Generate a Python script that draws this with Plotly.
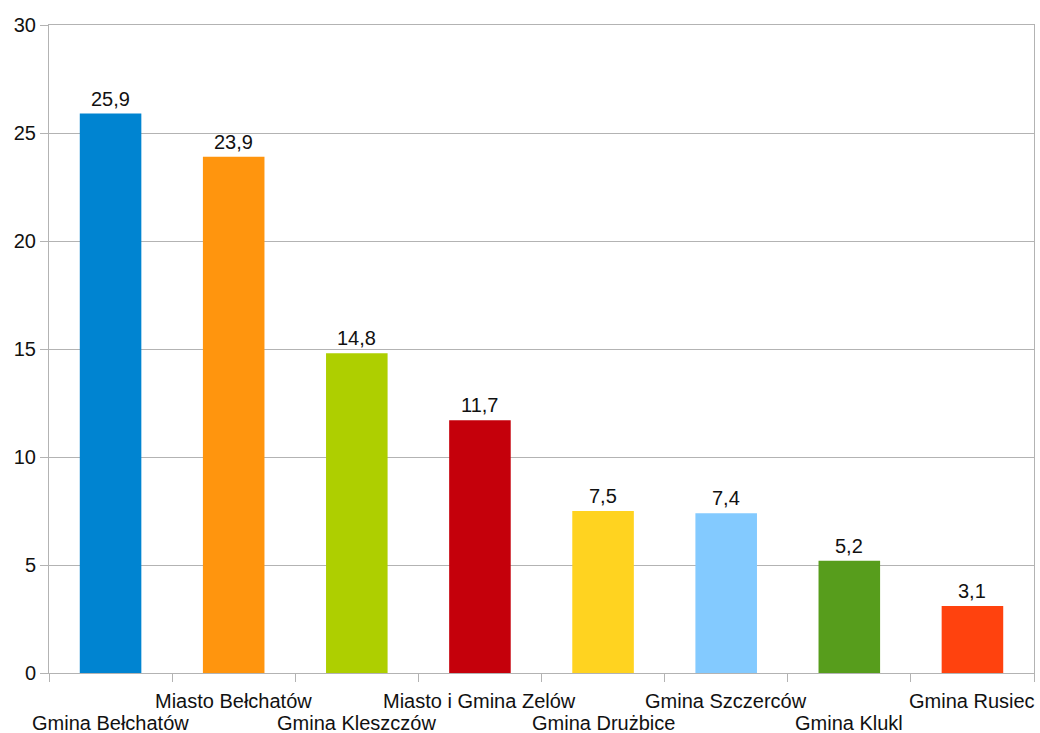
import plotly.graph_objects as go

categories = ["Gmina Bełchatów", "Miasto Bełchatów", "Gmina Kleszczów", "Miasto i Gmina Zelów",
              "Gmina Drużbice", "Gmina Szczerców", "Gmina Klukl", "Gmina Rusiec"]
values = [25.9, 23.9, 14.8, 11.7, 7.5, 7.4, 5.2, 3.1]
colors = ["#0084d1", "#ff950e", "#aecf00", "#c5000b", "#ffd320", "#83caff", "#579d1c", "#ff420e"]
y_ticks = [0, 5, 10, 15, 20, 25, 30]

labels = [f"{v:.1f}".replace(".", ",") for v in values]

FONT = "Liberation Sans, Arial, sans-serif"
FS = 20
TXT = "#111111"
GRID = "#b3b3b3"

xs = list(range(len(categories)))

fig = go.Figure(go.Bar(
    x=xs, y=values,
    marker=dict(color=colors, line=dict(width=0)),
    width=0.5, hoverinfo="skip",
))

# data labels above bars
for i, (v, t) in enumerate(zip(values, labels)):
    fig.add_annotation(x=i, y=v, xref="x", yref="y", text=t, showarrow=False,
                       yanchor="bottom", yshift=2,
                       font=dict(family=FONT, size=FS, color=TXT))

# staggered category labels: even index lower row, odd index upper row
for i, c in enumerate(categories):
    fig.add_annotation(x=i, y=0, xref="x", yref="paper", text=c, showarrow=False,
                       yanchor="top", yshift=(-37 if i % 2 == 0 else -15),
                       font=dict(family=FONT, size=FS, color=TXT))

fig.update_layout(
    width=1040, height=733,
    margin=dict(l=49, r=6, t=25, b=60, autoexpand=False),
    paper_bgcolor="white", plot_bgcolor="white",
    font=dict(family=FONT, size=FS, color=TXT),
    showlegend=False,
)
fig.update_xaxes(
    range=[-0.5, len(categories) - 0.5],
    tickvals=[i - 0.5 for i in range(len(categories) + 1)], showticklabels=False,
    ticks="outside", ticklen=8, tickcolor=GRID, tickwidth=1,
    showgrid=False, showline=True, linecolor=GRID, linewidth=1, mirror=True,
    zeroline=False, automargin=False,
)
fig.update_yaxes(
    range=[0, 30], tickvals=y_ticks,
    ticks="outside", ticklen=8, tickcolor=GRID,
    showgrid=True, gridcolor=GRID, gridwidth=1,
    showline=True, linecolor=GRID, linewidth=1, mirror=True,
    zeroline=False, automargin=False,
    tickfont=dict(family=FONT, size=FS, color=TXT),
)

# remove the default 8px page margin so the figure fills the window exactly
fig.write_html("out.html", config={"displayModeBar": False},
               post_script="document.body.style.margin='0';document.body.style.overflow='hidden';")
